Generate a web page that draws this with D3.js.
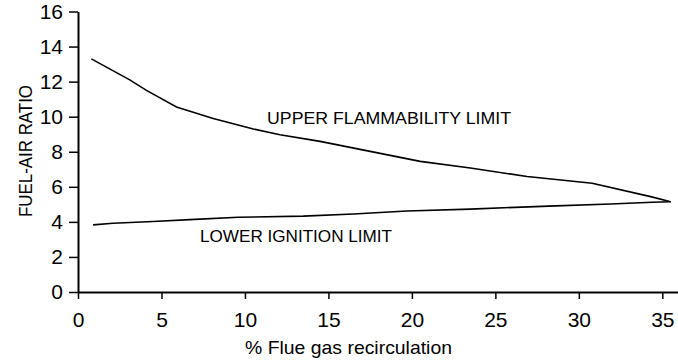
<!DOCTYPE html>
<html>
<head>
<meta charset="utf-8">
<script src="https://cdn.jsdelivr.net/npm/d3@7"></script>
<style>
  html, body { margin: 0; padding: 0; background: #fff; }
  svg { display: block; }
  text { font-family: "Liberation Sans", Arial, sans-serif; fill: #000; }
</style>
</head>
<body>
<svg id="chart" width="678" height="364"></svg>
<script>
// Data
const upperX = [0.8, 3.1, 4.1, 5.9, 8.1, 10.5, 12.1, 14.5, 17.5, 20.5, 23.5, 26.9, 30.8, 34.3, 35.5];
const upperY = [13.3, 12.1, 11.5, 10.55, 9.9, 9.3, 8.97, 8.59, 8.02, 7.45, 7.07, 6.59, 6.2, 5.44, 5.15];
const lowerX = [0.9, 2.1, 4.5, 7.0, 9.6, 13.5, 16.5, 19.7, 23.5, 28.2, 31.9, 34.4, 35.5];
const lowerY = [3.83, 3.92, 4.02, 4.14, 4.26, 4.33, 4.45, 4.62, 4.73, 4.9, 5.02, 5.12, 5.15];
const xTicks = [0, 5, 10, 15, 20, 25, 30, 35];
const yTicks = [0, 2, 4, 6, 8, 10, 12, 14, 16];
const upperLabel = "UPPER FLAMMABILITY LIMIT";
const lowerLabel = "LOWER IGNITION LIMIT";
const xTitle = "% Flue gas recirculation";
const yTitle = "FUEL-AIR RATIO";

const svg = d3.select("#chart");
const x = d3.scaleLinear().domain([0, 36]).range([78, 679]);
const y = d3.scaleLinear().domain([0, 16]).range([292, 11.5]);

// X axis
const xAxis = svg.append("g").attr("transform", `translate(0,${y(0)})`)
  .call(d3.axisBottom(x).tickValues(xTicks).tickSize(7).tickSizeOuter(0).tickPadding(13));
xAxis.select(".domain").attr("stroke", "#000").attr("stroke-width", 2);
xAxis.selectAll(".tick line").attr("stroke", "#000").attr("stroke-width", 1.5);
xAxis.selectAll(".tick text").style("font-size", "21px").style("font-family", "Liberation Sans, Arial, sans-serif");

// Y axis
const yAxis = svg.append("g").attr("transform", `translate(${x(0)},0)`)
  .call(d3.axisLeft(y).tickValues(yTicks).tickSize(9).tickSizeOuter(0).tickPadding(6));
yAxis.select(".domain").attr("stroke", "#000").attr("stroke-width", 2);
yAxis.selectAll(".tick line").attr("stroke", "#000").attr("stroke-width", 1.5);
yAxis.selectAll(".tick text").style("font-size", "21px").style("font-family", "Liberation Sans, Arial, sans-serif");

// Lines
const line = d3.line().x(d => x(d[0])).y(d => y(d[1]));
const upper = upperX.map((v, i) => [v, upperY[i]]);
const lower = lowerX.map((v, i) => [v, lowerY[i]]);
svg.append("path").datum(upper).attr("d", line).attr("fill", "none").attr("stroke", "#000").attr("stroke-width", 1.6);
svg.append("path").datum(lower).attr("d", line).attr("fill", "none").attr("stroke", "#000").attr("stroke-width", 1.6);

// Labels
svg.append("text").attr("x", 267).attr("y", 124).style("font-size", "17px")
  .attr("textLength", 244).attr("lengthAdjust", "spacingAndGlyphs").text(upperLabel);
svg.append("text").attr("x", 200).attr("y", 242).style("font-size", "16px")
  .attr("textLength", 192).attr("lengthAdjust", "spacingAndGlyphs").text(lowerLabel);

// Axis titles
svg.append("text").attr("x", 245).attr("y", 354).style("font-size", "19px")
  .attr("textLength", 207).attr("lengthAdjust", "spacingAndGlyphs").text(xTitle);
svg.append("text").attr("transform", "translate(32,217) rotate(-90)").style("font-size", "18px")
  .attr("textLength", 132).attr("lengthAdjust", "spacingAndGlyphs").text(yTitle);
</script>
</body>
</html>
